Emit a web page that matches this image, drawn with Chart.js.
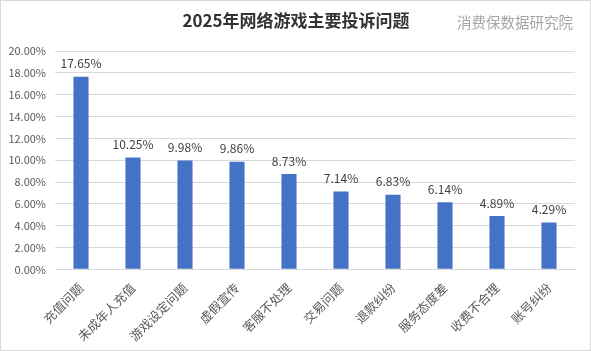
<!DOCTYPE html>
<html>
<head>
<meta charset="utf-8">
<script src="https://cdn.jsdelivr.net/npm/chart.js@4"></script>
<style>
  html, body { margin: 0; padding: 0; background: #fff; }
  #wrap { width: 591px; height: 351px; position: relative; }
</style>
</head>
<body>
<div id="wrap"><canvas id="grafico"></canvas></div>
<script>
const categorias = ['充值问题', '未成年人充值', '游戏设定问题', '虚假宣传', '客服不处理', '交易问题', '退款纠纷', '服务态度差', '收费不合理', '账号纠纷'];
const valores = [17.65, 10.25, 9.98, 9.86, 8.73, 7.14, 6.83, 6.14, 4.89, 4.29];
const titulo = '2025年网络游戏主要投诉问题';
const marca = '消费保数据研究院';

const fonte = '"Noto Sans CJK SC", "Noto Sans", sans-serif';

// titulo, marca d'agua, rotulos e borda
const extras = {
    id: 'extras',
    afterDatasetsDraw(chart) {
        const ctx = chart.ctx;
        const meta = chart.getDatasetMeta(0);
        ctx.save();
        ctx.font = '12px ' + fonte;
        ctx.fillStyle = '#404040';
        ctx.textAlign = 'center';
        ctx.textBaseline = 'bottom';
        meta.data.forEach((bar, i) => {
            ctx.fillText(valores[i].toFixed(2) + '%', bar.x, bar.y - 7);
        });
        ctx.restore();
    },
    afterDraw(chart) {
        const ctx = chart.ctx;
        ctx.save();
        ctx.font = 'bold 17px ' + fonte;
        ctx.fillStyle = '#333333';
        ctx.textAlign = 'center';
        ctx.textBaseline = 'middle';
        ctx.fillText(titulo, 296, 21);
        ctx.font = '14.5px ' + fonte;
        ctx.fillStyle = '#a6a6a6';
        ctx.textAlign = 'left';
        ctx.fillText(marca, 457, 22);
        ctx.strokeStyle = '#d9d9d9';
        ctx.lineWidth = 1;
        ctx.strokeRect(0.5, 0.5, chart.width - 1, chart.height - 1);
        ctx.restore();
    }
};

new Chart(document.getElementById('grafico').getContext('2d'), {
    type: 'bar',
    data: {
        labels: categorias,
        datasets: [{
            data: valores,
            backgroundColor: '#4472c4',
            barPercentage: 0.58,
            categoryPercentage: 0.5
        }]
    },
    options: {
        responsive: true,
        maintainAspectRatio: false,
        animation: false,
        layout: { padding: { top: 51, right: 16, left: 0, bottom: 4 } },
        plugins: {
            legend: { display: false },
            tooltip: { enabled: false }
        },
        scales: {
            x: {
                grid: { display: false },
                border: { color: '#d9d9d9' },
                ticks: {
                    color: '#595959',
                    font: { size: 12.5, family: fonte },
                    minRotation: 45,
                    maxRotation: 45,
                    padding: 3
                }
            },
            y: {
                min: 0,
                max: 20,
                border: { display: false },
                grid: { color: '#d9d9d9', drawTicks: false },
                afterFit(axis) { axis.width = 55; },
                ticks: {
                    stepSize: 2,
                    color: '#595959',
                    padding: 9,
                    font: { size: 11, family: fonte },
                    callback: v => v.toFixed(2) + '%'
                }
            }
        }
    },
    plugins: [extras]
});
</script>
</body>
</html>
